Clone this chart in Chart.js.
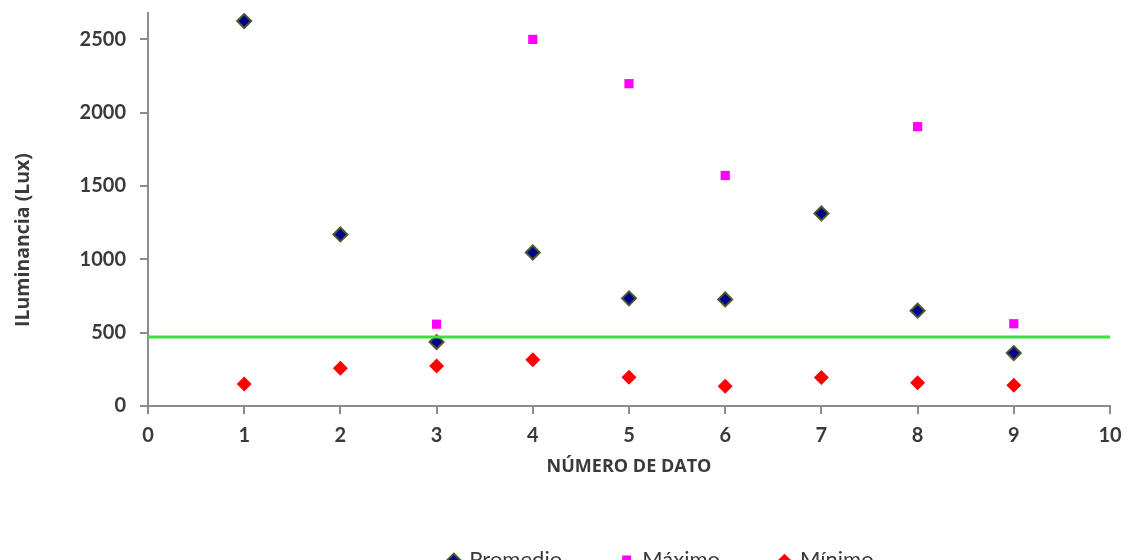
<!DOCTYPE html>
<html lang="es">
<head>
  <meta charset="UTF-8" />
  <title>Iluminancia por dato</title>
  <script src="https://cdn.jsdelivr.net/npm/chart.js"></script>
  <style>
    html, body { margin: 0; padding: 0; background: #fff; overflow: hidden; }
    #frame { width: 1139px; height: 560px; overflow: hidden; position: relative; }
    #box { width: 1323px; height: 581px; position: absolute; left: 0; top: 0; }
  </style>
</head>
<body>
  <div id="frame">
    <div id="box"><canvas id="luxChart"></canvas></div>
  </div>

  <script>
    // datos
    const numeroDato = [1, 2, 3, 4, 5, 6, 7, 8, 9];
    const promedio = [2625, 1170, 436, 1047, 734, 727, 1313, 650, 361];
    const maximo = [null, null, 558, 2500, 2198, 1572, null, 1905, 561];
    const minimo = [150, 257, 272, 316, 196, 134, 195, 159, 141];
    const nivelRefX = [0, 10];
    const nivelRef = 470;
    const yTicks = [0, 500, 1000, 1500, 2000, 2500];
    const yTitulo = 'ILuminancia (Lux)';

    const toPoints = vals => numeroDato
      .map((x, i) => ({ x: x, y: vals[i] }))
      .filter(p => p.y !== null);

    const axisGrey = '#8c8c8c';
    const txt = '#3a3a3a';

    // titulo del eje Y, un poco mas abajo que el centro como en excel
    const yTitlePlugin = {
      id: 'yTitle',
      afterDraw(chart) {
        const ctx = chart.ctx;
        ctx.save();
        ctx.translate(23, 240);
        ctx.rotate(-Math.PI / 2);
        ctx.font = 'bold 19.5px "Open Sans"';
        ctx.fillStyle = txt;
        ctx.textAlign = 'center';
        ctx.textBaseline = 'middle';
        ctx.fillText(yTitulo, 0, 0);
        ctx.restore();
      }
    };

    new Chart(document.getElementById('luxChart'), {
      type: 'scatter',
      data: {
        datasets: [
          {
            label: 'ref',
            type: 'line',
            data: nivelRefX.map(x => ({ x: x, y: nivelRef })),
            borderColor: '#3ee03e',
            borderWidth: 3,
            pointRadius: 0,
            fill: false
          },
          {
            label: 'Promedio',
            data: toPoints(promedio),
            pointStyle: 'rectRot',
            pointRadius: 7,
            pointHoverRadius: 7,
            backgroundColor: '#00008c',
            borderColor: '#4a5a28',
            borderWidth: 2
          },
          {
            label: 'Máximo',
            data: toPoints(maximo),
            pointStyle: 'rect',
            pointRadius: 6.5,
            pointHoverRadius: 6.5,
            backgroundColor: '#ff00ff',
            borderColor: '#ff00ff',
            borderWidth: 0
          },
          {
            label: 'Mínimo',
            data: toPoints(minimo),
            pointStyle: 'rectRot',
            pointRadius: 7.5,
            pointHoverRadius: 7.5,
            backgroundColor: '#ff0000',
            borderColor: '#ff0000',
            borderWidth: 0
          }
        ]
      },
      options: {
        responsive: true,
        maintainAspectRatio: false,
        animation: false,
        layout: { padding: { top: 13, right: 0, bottom: 0, left: 0 } },
        plugins: {
          tooltip: { enabled: false },
          legend: {
            position: 'bottom',
            labels: {
              filter: item => item.text !== 'ref',
              usePointStyle: true,
              boxWidth: 9,
              boxHeight: 9,
              padding: 60,
              color: txt,
              font: { family: 'Lato', size: 22 }
            }
          }
        },
        scales: {
          x: {
            type: 'linear',
            min: 0,
            max: 10,
            ticks: {
              stepSize: 1,
              padding: 10,
              color: txt,
              font: { family: 'Lato', size: 20, weight: 'bold' }
            },
            grid: { drawOnChartArea: false, tickLength: 8, color: axisGrey, lineWidth: 2 },
            border: { color: axisGrey, width: 2 },
            title: {
              display: true,
              text: 'NÚMERO DE DATO',
              color: txt,
              padding: { top: 0, bottom: 11 },
              font: { family: 'Open Sans', size: 18, weight: 'bold' }
            },
            afterFit: s => { s.height = 83; }
          },
          y: {
            type: 'linear',
            min: 0,
            max: 2680,
            afterBuildTicks: s => { s.ticks = yTicks.map(v => ({ value: v })); },
            ticks: {
              padding: 14,
              color: txt,
              callback: v => String(v),
              font: { family: 'Lato', size: 20, weight: 'bold' }
            },
            grid: { drawOnChartArea: false, tickLength: 8, color: axisGrey, lineWidth: 2 },
            border: { color: axisGrey, width: 2 },
            afterFit: s => {
              s.width = 148;
              s.paddingTop = 0;
              s.paddingBottom = 0;
            }
          },
          // hueco a la derecha para que la leyenda quede centrada como en el original
          margen: {
            type: 'linear',
            position: 'right',
            min: 0,
            max: 1,
            ticks: { display: false },
            grid: { display: false },
            border: { display: false },
            afterFit: s => { s.width = 213; }
          }
        }
      },
      plugins: [yTitlePlugin]
    });
  </script>
</body>
</html>
